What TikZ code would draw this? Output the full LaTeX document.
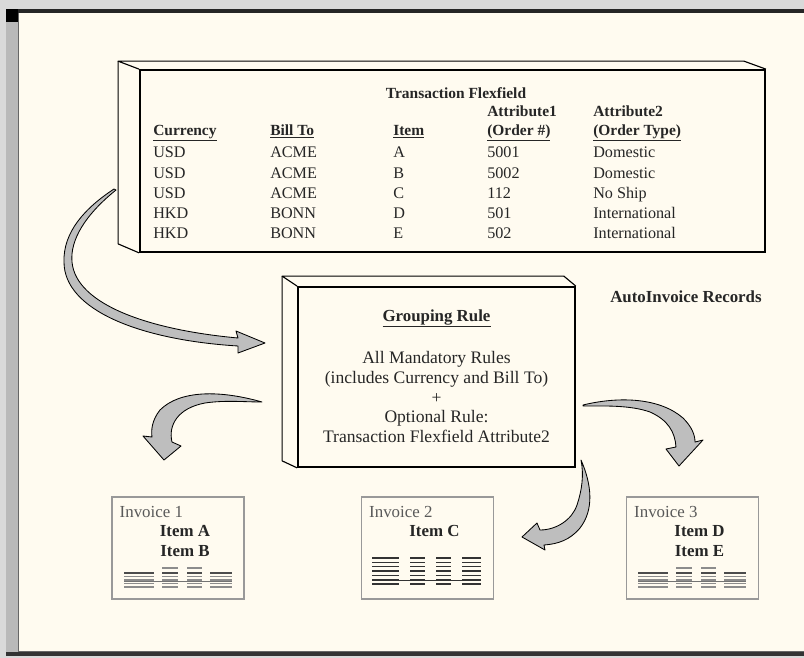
\documentclass[tikz,border=0pt]{standalone}
\usepackage{fontspec}
\setmainfont{Liberation Serif}
\usetikzlibrary{positioning, calc}
\definecolor{paper}{RGB}{255,251,240}
\definecolor{arrowgray}{RGB}{190,190,190}

\begin{document}
\begin{tikzpicture}[
    x=0.025cm, y=-0.025cm,
    every node/.style={inner sep=0pt, text=black!85}
]
    % Define styles
    \tikzstyle{face} = [rectangle, draw=black, line width=1.2pt, fill=paper]
    \tikzstyle{panel} = [draw=black, line width=0.8pt, line join=round]
    \tikzstyle{invoice} = [rectangle, draw=black!40, line width=0.8pt, fill=paper, minimum width=3.3cm, minimum height=2.55cm]
    \tikzstyle{headcell} = [anchor=base west, font=\fontsize{11}{14.4}\selectfont\bfseries]
    \tikzstyle{datacell} = [anchor=west, align=left, font=\fontsize{11.5}{14.4}\selectfont]
    \tikzstyle{grouptext} = [align=center, font=\fontsize{12.5}{13.9}\selectfont]
    \tikzstyle{boldtext} = [font=\fontsize{12}{14}\selectfont\bfseries]
    \tikzstyle{invlabel} = [anchor=west, font=\fontsize{12}{14}\selectfont, text=black!65]
    \tikzstyle{bigarrow} = [fill=arrowgray, draw=black, line width=0.6pt, line join=round]
    \tikzstyle{dashline} = [line width=1pt]

    \useasboundingbox (0,0) rectangle (804,658);

    % Frame
    \fill[gray!30] (0,0) rectangle (804,658);
    \fill[paper] (18,13) rectangle (804,651);
    \fill[gray!55] (6,10) rectangle (18,656);
    \draw[black!60, line width=0.6pt] (18,13) -- (18,651) -- (804,651);
    \fill[black!85] (6,9) rectangle (804,13);
    \fill[black] (6,9) rectangle (18,22);
    \fill[black!80] (6,652) rectangle (804,656);

    % Transaction flexfield table
    \node[face, minimum width=15.625cm, minimum height=4.55cm] (flex) at (452.5,161) {};
    \draw[panel] (flex.north west) -- ++(-21,-8) -- ($(flex.north east)+(-22,-8)$) -- (flex.north east);
    \draw[panel] ($(flex.north west)+(-21,-8)$) -- ($(flex.south west)+(-21,-9)$) -- (flex.south west);

    \node[font=\fontsize{11}{14}\selectfont\bfseries] (flextitle) at (456,93) {Transaction Flexfield};
    \node[headcell] (attr1) at (487,116) {Attribute1};
    \node[headcell] (attr2) at (593,116) {Attribute2};
    \node[headcell] (hcur) at (153,135) {\underline{Currency}};
    \node[headcell] (hbill) at (270,135) {\underline{Bill To}};
    \node[headcell] (hitem) at (393,135) {\underline{Item}};
    \node[headcell] (horder) at (487,135) {\underline{(Order \#)}};
    \node[headcell] (htype) at (593,135) {\underline{(Order Type)}};

    \node[datacell] (currency) at (153,193) {USD\\USD\\USD\\HKD\\HKD};
    \node[datacell] (billto) at (270,193) {ACME\\ACME\\ACME\\BONN\\BONN};
    \node[datacell] (items) at (393,193) {A\\B\\C\\D\\E};
    \node[datacell] (ordernum) at (487,193) {5001\\5002\\112\\501\\502};
    \node[datacell] (ordertype) at (593,193) {Domestic\\Domestic\\No Ship\\International\\International};

    % Grouping rule
    \node[face, minimum width=6.925cm, minimum height=4.5cm] (group) at (436.5,377) {};
    \draw[panel] (group.north west) -- ++(-15,-10) -- ($(group.north east)+(-12,-10)$) -- (group.north east);
    \draw[panel] ($(group.north west)+(-15,-10)$) -- ($(group.south west)+(-15,-7)$) -- (group.south west);

    \node[boldtext, anchor=base] (grouptitle) at (436.5,321) {\underline{Grouping Rule}};
    \node[grouptext] (groupbody) at (436.5,397) {All Mandatory Rules\\(includes Currency and Bill To)\\+\\Optional Rule:\\Transaction Flexfield Attribute2};
    \node[boldtext, anchor=west] (records) at (610,297) {AutoInvoice Records};

    % Invoices
    \node[invoice] (inv1) at (178,548) {};
    \node[invoice] (inv2) at (427.5,548) {};
    \node[invoice] (inv3) at (692.5,548) {};

    \node[invlabel] (inv1label) at ($(inv1.north west)+(8,16)$) {Invoice 1};
    \node[boldtext] (inv1a) at ($(inv1.north)+(7,35)$) {Item A};
    \node[boldtext] (inv1b) at ($(inv1.north)+(7,55)$) {Item B};
    \node[invlabel] (inv2label) at ($(inv2.north west)+(8,16)$) {Invoice 2};
    \node[boldtext] (inv2c) at ($(inv2.north)+(7,35)$) {Item C};
    \node[invlabel] (inv3label) at ($(inv3.north west)+(8,16)$) {Invoice 3};
    \node[boldtext] (inv3d) at ($(inv3.north)+(7,35)$) {Item D};
    \node[boldtext] (inv3e) at ($(inv3.north)+(7,55)$) {Item E};

    % Invoice lines
    \foreach \bx in {112,626} {
        \foreach \y/\lc in {573/black!70, 576.5/black!45, 580/black!45, 583.5/black!45, 587/black!45}
            \draw[dashline, \lc] (\bx+12,\y) -- (\bx+42,\y) (\bx+50,\y) -- (\bx+66,\y) (\bx+75,\y) -- (\bx+90,\y) (\bx+98,\y) -- (\bx+120,\y);
        \draw[dashline, black!45] (\bx+50,568) -- (\bx+66,568) (\bx+75,568) -- (\bx+90,568);
        \draw[black!55, line width=0.6pt] (\bx+12,581.5) -- (\bx+120,581.5);
    }
    \foreach \y in {558,562.3,566.6,570.9,575.2,579.5,583.8}
        \draw[dashline, black!80] (372,\y) -- (399,\y) (410,\y) -- (425,\y) (436,\y) -- (451,\y) (462,\y) -- (481,\y);
    \draw[black!80, line width=0.6pt] (372,580.5) -- (481,580.5);

    % Curved arrows
    \draw[bigarrow] (116,190) .. controls (85,215) and (70,240) .. (72,262)
        .. controls (76,305) and (150,330) .. (238,338) -- (236,331) -- (265,343) -- (238,353) -- (238,346)
        .. controls (140,340) and (64,310) .. (64,262) .. controls (63,232) and (85,208) .. (114,189) -- cycle;
    \draw[bigarrow] (262,402) .. controls (220,390) and (180,390) .. (160,410)
        .. controls (152,420) and (151,430) .. (152,437) -- (143,436) -- (164,460) -- (181,446) -- (172,442)
        .. controls (168,425) and (178,408) .. (205,403) .. controls (225,400) and (245,402) .. (262,402) -- cycle;
    \draw[bigarrow] (583,405) .. controls (620,396) and (660,398) .. (683,418)
        .. controls (692,427) and (695,435) .. (695,442) -- (703,440) -- (679,466) -- (666,449) -- (676,447)
        .. controls (675,432) and (668,420) .. (650,412) .. controls (630,405) and (605,406) .. (583,406) -- cycle;
    \draw[bigarrow] (581,460) .. controls (592,485) and (594,510) .. (580,528)
        .. controls (570,540) and (558,544) .. (544,545) -- (545,550) -- (522,537) -- (537,523) -- (540,530)
        .. controls (556,530) and (572,520) .. (577,505) .. controls (582,490) and (584,475) .. (581,460) -- cycle;

\end{tikzpicture}
\end{document}
